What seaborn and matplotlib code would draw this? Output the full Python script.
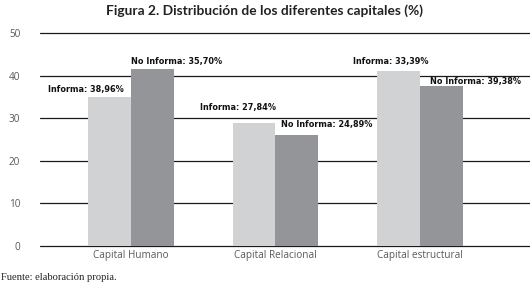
import pandas as pd
import matplotlib
matplotlib.use("Agg")
import matplotlib.pyplot as plt
import seaborn as sns

# data
categorias = ["Capital Humano", "Capital Relacional", "Capital estructural"]
informa = [35.0, 29.0, 41.2]
no_informa = [41.6, 26.1, 37.6]
etiquetas_informa = ["Informa: 38,96%", "Informa: 27,84%", "Informa: 33,39%"]
etiquetas_no_informa = ["No Informa: 35,70%", "No Informa: 24,89%", "No Informa: 39,38%"]
yticks = [0, 10, 20, 30, 40, 50]

df = pd.DataFrame({
    "categoria": categorias * 2,
    "grupo": ["Informa"] * 3 + ["No Informa"] * 3,
    "valor": informa + no_informa,
})

sns.set_style("white")
plt.rcParams["font.family"] = ["Open Sans", "DejaVu Sans"]

fig = plt.figure(figsize=(5.3, 2.86), dpi=100)
ax = fig.add_axes([0.075, 0.14, 0.925, 0.743])

for y in yticks:
    ax.axhline(y, color="#1a1a1a", lw=0.9, zorder=0, clip_on=False)

sns.barplot(data=df, x="categoria", y="valor", hue="grupo", order=categorias,
            hue_order=["Informa", "No Informa"],
            palette=["#d1d2d4", "#939598"], width=0.59, saturation=1,
            linewidth=0, legend=False, ax=ax, zorder=2)

# label offsets in pixels (dx, dy) from bar top centre
off_inf = [(-24, 8), (-16, 15), (-8, 9)]
off_no = [(24, 8), (30, 11), (34, 5)]
bw = 0.59 / 2
lab = dict(ha="center", va="center", fontsize=5.9, fontweight="bold",
           color="#111111", family=["DejaVu Sans"])
for i in range(3):
    ax.annotate(etiquetas_informa[i], xy=(i - bw / 2, informa[i]),
                xytext=off_inf[i], textcoords="offset pixels", **lab)
    ax.annotate(etiquetas_no_informa[i], xy=(i + bw / 2, no_informa[i]),
                xytext=off_no[i], textcoords="offset pixels", **lab)

ax.set_xlim(-0.63, 2.76)
ax.set_ylim(0, 50)
ax.set_yticks(yticks)
ax.set_xlabel("")
ax.set_ylabel("")
ax.tick_params(axis="both", length=0, labelsize=7.2, labelcolor="#5a5a5a")
ax.tick_params(axis="y", pad=14)
ax.tick_params(axis="x", pad=3)
sns.despine(ax=ax, left=True, bottom=True, top=True, right=True)
ax.patch.set_visible(False)

fig.text(0.5, 0.962, "Figura 2. Distribución de los diferentes capitales (%)",
         ha="center", va="center", fontsize=9.9, fontweight="bold", color="#222222",
         family=["Lato", "DejaVu Sans"])
fig.text(0.002, 0.028, "Fuente: elaboración propia.", ha="left", va="center",
         fontsize=7.6, family=["Liberation Serif", "DejaVu Serif"], color="#222222")

fig.savefig("out.png", dpi=100)
